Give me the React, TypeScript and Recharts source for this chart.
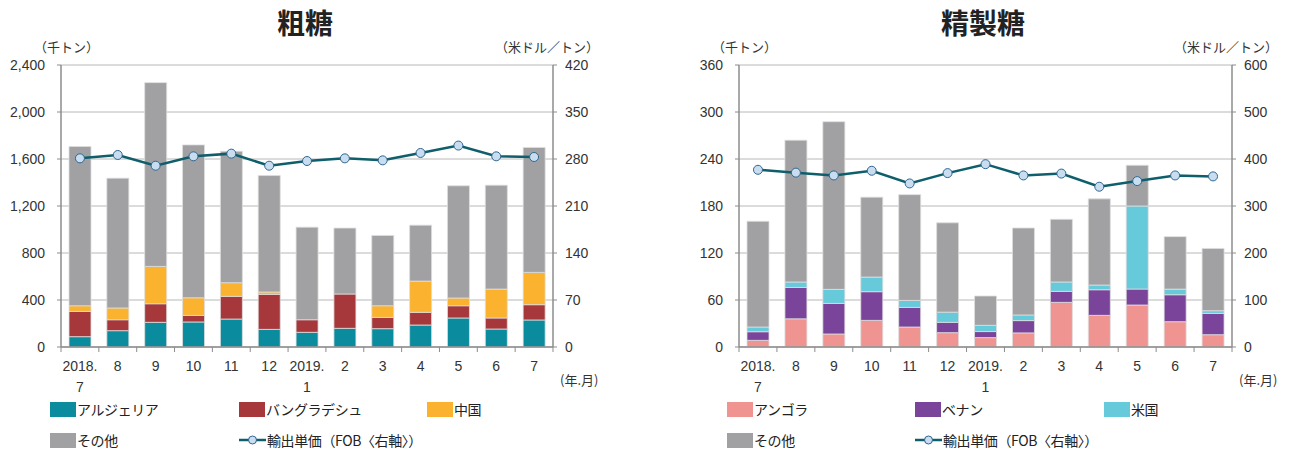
import React from "react";
import { ComposedChart, Bar, Line, XAxis, YAxis, CartesianGrid } from "recharts";

// month labels (first line) and year line below
const monthLabels = ["2018.", "8", "9", "10", "11", "12", "2019.", "2", "3", "4", "5", "6", "7"];
const monthSubLabels = ["7", "", "", "", "", "", "1", "", "", "", "", "", ""];

// 粗糖 (千トン)
const rawAlgeria = [88, 139, 210, 213, 238, 150, 125, 159, 156, 187, 247, 153, 230];
const rawBangladesh = [215, 93, 158, 56, 193, 298, 107, 292, 96, 108, 104, 94, 130];
const rawChina = [48, 100, 318, 150, 116, 20, 0, 0, 99, 266, 66, 246, 275];
const rawOther = [1355, 1105, 1564, 1301, 1119, 991, 788, 561, 598, 476, 955, 884, 1063];
// 輸出単価 (米ドル/トン)
const rawPrice = [281, 286, 270, 284, 288, 270, 277, 281, 278, 289, 300, 284, 283];

// 精製糖 (千トン)
const refAngola = [8.5, 36, 16.6, 34, 25.5, 18.3, 12, 18, 57, 40.4, 53.6, 32.3, 15.7];
const refBenin = [11, 40, 39, 36.6, 25, 13.2, 7.7, 15.7, 14, 32.7, 20.4, 34.4, 27.2];
const refUsa = [6, 7, 18, 18.7, 9, 13, 8, 7.2, 12, 6, 106, 7.2, 3.4];
const refOther = [135, 181, 214, 102, 135, 114, 37.4, 111, 80, 110, 52, 67, 79.5];
const refPrice = [377, 371, 365, 375, 348, 370, 389, 365, 369, 341, 353, 365, 363];

const rawLeftTicks = [0, 400, 800, 1200, 1600, 2000, 2400];
const rawRightTicks = [0, 70, 140, 210, 280, 350, 420];
const refLeftTicks = [0, 60, 120, 180, 240, 300, 360];
const refRightTicks = [0, 100, 200, 300, 400, 500, 600];

const JP = '"Noto Sans CJK JP", sans-serif';
const NUM = '"Liberation Sans", Arial, sans-serif';
const AXIS = "#8c8c8c";
const TEXT = "#333";
const LINE = "#0E5E6B";

interface SeriesDef {
  name: string;
  color: string;
  values: number[];
}

interface ChartProps {
  offsetX: number;
  title: string;
  titleCenter: number;
  series: SeriesDef[];
  price: number[];
  leftTicks: number[];
  rightTicks: number[];
  leftWidth: number;
  rightWidth: number;
  comma: boolean;
  legendCols: number[];
}

const W = 645;
const H = 452;
const TOP = 65;
const BOTTOM = 105;

const SugarChart: React.FC<ChartProps> = ({
  offsetX,
  title,
  titleCenter,
  series,
  price,
  leftTicks,
  rightTicks,
  leftWidth,
  rightWidth,
  comma,
  legendCols,
}) => {
  const data = monthLabels.map((m, i) => {
    const row: Record<string, any> = { month: m, price: price[i] };
    series.forEach((s, k) => {
      row["s" + k] = s.values[i];
    });
    return row;
  });
  const band = (W - leftWidth - rightWidth) / monthLabels.length;

  const MonthTick = (p: any) => {
    const { x, y, index } = p;
    return (
      <g>
        <line x1={x - band / 2} y1={y} x2={x - band / 2} y2={y + 5} stroke={AXIS} />
        {index === monthLabels.length - 1 && (
          <line x1={x + band / 2} y1={y} x2={x + band / 2} y2={y + 5} stroke={AXIS} />
        )}
        <text x={x} y={y + 24} textAnchor="middle" fill={TEXT} fontSize={14} fontFamily={NUM}>
          {monthLabels[index]}
        </text>
        <text x={x} y={y + 45} textAnchor="middle" fill={TEXT} fontSize={14} fontFamily={NUM}>
          {monthSubLabels[index]}
        </text>
      </g>
    );
  };

  const legendItems = [
    ...series.map((s) => ({ name: s.name, color: s.color, line: false })),
    { name: "輸出単価（FOB〈右軸〉）", color: LINE, line: true },
  ];

  return (
    <div style={{ position: "absolute", left: offsetX, top: 0, width: W, height: H }}>
      <div
        style={{
          position: "absolute",
          left: titleCenter - 100,
          width: 200,
          top: 7,
          textAlign: "center",
          fontFamily: JP,
          fontWeight: 700,
          fontSize: 28,
          lineHeight: "30px",
          color: "#222",
        }}
      >
        {title}
      </div>
      <div style={{ position: "absolute", left: leftWidth - 27, top: 39, fontFamily: JP, fontSize: 13, lineHeight: "16px", color: TEXT }}>
        （千トン）
      </div>
      <div style={{ position: "absolute", left: W - rightWidth - 58, top: 39, fontFamily: JP, fontSize: 13, lineHeight: "16px", color: TEXT }}>
        （米ドル／トン）
      </div>
      <div style={{ position: "absolute", left: W - rightWidth + 7, top: 372, fontFamily: JP, fontSize: 13, lineHeight: "16px", color: TEXT }}>
        (年.月)
      </div>
      <ComposedChart
        width={W}
        height={H}
        data={data}
        margin={{ top: TOP, right: 0, bottom: BOTTOM - 50, left: 0 }}
        barSize={22}
      >
        <CartesianGrid yAxisId="left" vertical={false} stroke="#b8b8b8" strokeWidth={1} />
        <XAxis
          dataKey="month"
          height={50}
          tickLine={false}
          tickSize={0}
          tickMargin={0}
          axisLine={{ stroke: AXIS, strokeWidth: 1.5 }}
          tick={MonthTick}
          interval={0}
        />
        <YAxis
          yAxisId="left"
          width={leftWidth}
          domain={[leftTicks[0], leftTicks[leftTicks.length - 1]]}
          ticks={leftTicks}
          tickSize={4}
          tickMargin={12}
          tickLine={{ stroke: AXIS }}
          axisLine={{ stroke: AXIS, strokeWidth: 1.5 }}
          tick={{ fill: TEXT, fontSize: 14, fontFamily: NUM }}
          tickFormatter={(v: number) => (comma ? v.toLocaleString("en-US") : String(v))}
        />
        <YAxis
          yAxisId="right"
          orientation="right"
          width={rightWidth}
          domain={[rightTicks[0], rightTicks[rightTicks.length - 1]]}
          ticks={rightTicks}
          tickSize={4}
          tickMargin={8}
          tickLine={{ stroke: AXIS }}
          axisLine={{ stroke: AXIS, strokeWidth: 1.5 }}
          tick={{ fill: TEXT, fontSize: 14, fontFamily: NUM }}
        />
        {series.map((s, k) => (
          <Bar
            key={s.name}
            yAxisId="left"
            dataKey={"s" + k}
            stackId="a"
            fill={s.color}
            stroke="#dedede"
            strokeWidth={0.8}
            isAnimationActive={false}
          />
        ))}
        <Line
          yAxisId="right"
          dataKey="price"
          stroke={LINE}
          strokeWidth={2.5}
          dot={{ r: 4.5, fill: "#C8DDF0", stroke: "#2F6690", strokeWidth: 1 }}
          isAnimationActive={false}
        />
      </ComposedChart>
      {legendItems.map((it, i) => {
        const row = i < 3 ? 0 : 1;
        const col = i < 3 ? i : i - 3;
        return (
          <div
            key={it.name}
            style={{
              position: "absolute",
              left: legendCols[col],
              top: row === 0 ? 400 : 431,
              height: 18,
              display: "flex",
              alignItems: "center",
              fontFamily: JP,
              fontSize: 14,
              color: "#222",
              whiteSpace: "nowrap",
            }}
          >
            {it.line ? (
              <svg width={27} height={14} style={{ marginRight: 1 }}>
                <line x1={0} y1={7} x2={27} y2={7} stroke={it.color} strokeWidth={2.5} />
                <circle cx={13.5} cy={7} r={4} fill="#C8DDF0" stroke="#2F6690" strokeWidth={1} />
              </svg>
            ) : (
              <div style={{ width: 26, height: 15, background: it.color, marginRight: 1 }} />
            )}
            <span style={{ letterSpacing: "-0.4px" }}>{it.name}</span>
          </div>
        );
      })}
    </div>
  );
};

const App: React.FC = () => {
  return (
    <div style={{ position: "absolute", left: 0, top: 0, width: 1290, height: 452, background: "#fff" }}>
      <SugarChart
        offsetX={0}
        title="粗糖"
        titleCenter={305}
        series={[
          { name: "アルジェリア", color: "#0A8C9E", values: rawAlgeria },
          { name: "バングラデシュ", color: "#A6383B", values: rawBangladesh },
          { name: "中国", color: "#FBB22F", values: rawChina },
          { name: "その他", color: "#A1A1A4", values: rawOther },
        ]}
        price={rawPrice}
        leftTicks={rawLeftTicks}
        rightTicks={rawRightTicks}
        leftWidth={61}
        rightWidth={92}
        comma={true}
        legendCols={[50, 239, 427]}
      />
      <SugarChart
        offsetX={645}
        title="精製糖"
        titleCenter={338}
        series={[
          { name: "アンゴラ", color: "#F09492", values: refAngola },
          { name: "ベナン", color: "#79449A", values: refBenin },
          { name: "米国", color: "#67CADB", values: refUsa },
          { name: "その他", color: "#A1A1A4", values: refOther },
        ]}
        price={refPrice}
        leftTicks={refLeftTicks}
        rightTicks={refRightTicks}
        leftWidth={94}
        rightWidth={58}
        comma={false}
        legendCols={[82, 270, 459]}
      />
    </div>
  );
};

export default App;
